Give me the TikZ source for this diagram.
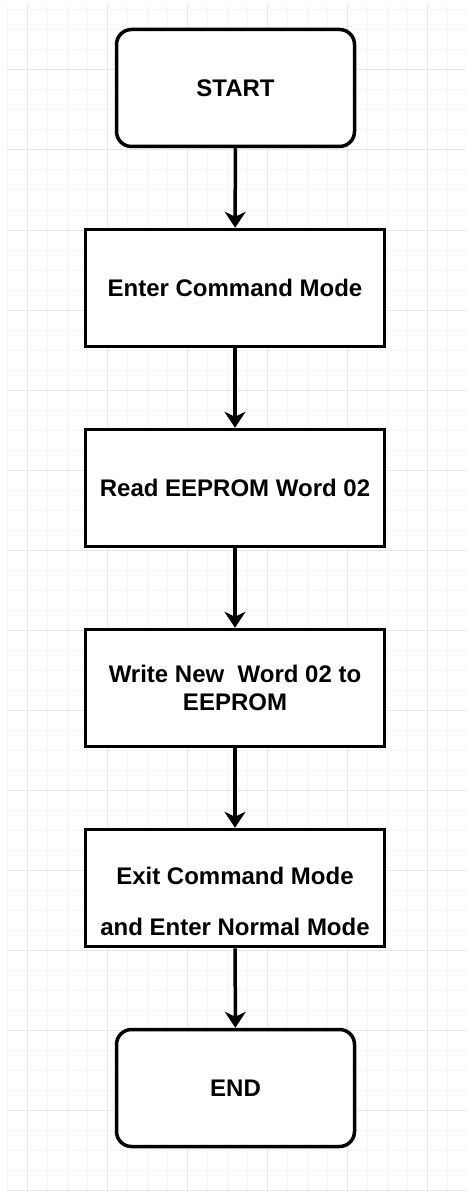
\documentclass[tikz,border=0pt]{standalone}
\usepackage{fontspec}
\setmainfont{Liberation Sans}
\usetikzlibrary{arrows.meta}
\tikzset{>={Stealth[length=16pt,width=21pt,inset=5pt]}}
\tikzset{
  termbox/.style={draw=black, line width=3.5pt, rounded corners=15pt, fill=white,
    minimum width=238pt, minimum height=117pt, inner sep=0pt,
    font=\bfseries\fontsize{24}{28}\selectfont},
  procbox/.style={draw=black, line width=3.5pt, fill=white,
    minimum width=299pt, minimum height=117pt, inner sep=0pt, align=center,
    font=\bfseries\fontsize{24}{28}\selectfont},
  boxtext/.style={inner sep=0pt, align=center,
    font=\bfseries\fontsize{24}{28}\selectfont},
  flow/.style={line width=3.5pt, ->},
  gridminor/.style={line width=1pt, draw={rgb,255:red,244;green,244;blue,244}},
  gridmajor/.style={line width=1pt, draw={rgb,255:red,230;green,230;blue,230}}
}

\begin{document}
\begin{tikzpicture}[x=1pt, y=-1pt]
\useasboundingbox (0,0) rectangle (466,1193);
\fill[white] (0,0) rectangle (466,1193);

% background grid
\foreach \gx in {7,27,...,467} \draw[gridminor] (\gx,5) -- (\gx,1193);
\foreach \gy in {10,30,...,1190} \draw[gridminor] (7,\gy) -- (466,\gy);
\foreach \gx in {27,107,...,427} \draw[gridmajor] (\gx,5) -- (\gx,1193);
\foreach \gy in {70,150,...,1190} \draw[gridmajor] (7,\gy) -- (466,\gy);

\node[termbox] (start) at (235.5,88) {START};
\node[procbox] (entercmd) at (235,288) {Enter Command Mode};
\node[procbox] (readword) at (235,488) {Read EEPROM Word 02};
\node[procbox] (writeword) at (235,688) {Write New\ \ Word 02 to\\EEPROM};
\node[procbox, label={[boxtext, yshift=-13pt]center:{Exit Command Mode\\[23pt]and Enter Normal Mode}}] (exitcmd) at (235,888) {};
\node[termbox] (stop) at (235.5,1088) {END};

\draw[flow] (start) -- (entercmd);
\draw[flow] (entercmd) -- (readword);
\draw[flow] (readword) -- (writeword);
\draw[flow] (writeword) -- (exitcmd);
\draw[flow] (exitcmd) -- (stop);
\end{tikzpicture}
\end{document}
